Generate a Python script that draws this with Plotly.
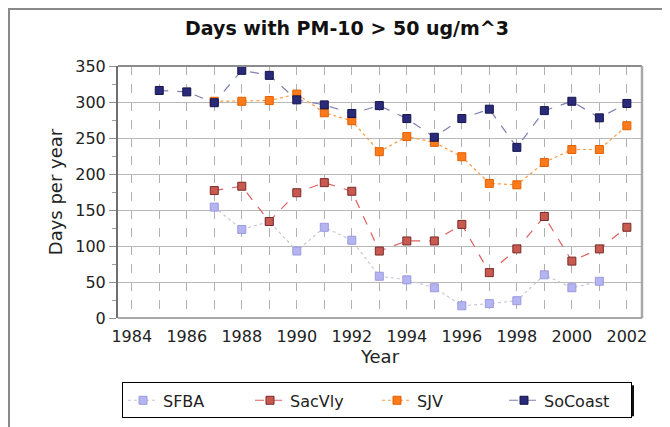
import plotly.graph_objects as go

years = list(range(1984, 2003))
tick_years = list(range(1984, 2003, 2))

sfba_years = list(range(1987, 2002))
sfba = [154, 123, 134, 93, 126, 108, 58, 53, 42, 17, 20, 24, 60, 42, 51]

sacvly_years = list(range(1987, 2003))
sacvly = [177, 183, 134, 174, 188, 176, 93, 107, 107, 130, 63, 96, 141, 79, 96, 126]

sjv_years = list(range(1987, 2003))
sjv = [301, 301, 302, 311, 285, 274, 231, 252, 244, 224, 187, 185, 216, 234, 234, 267]

socoast_years = list(range(1985, 2003))
socoast = [316, 314, 299, 344, 337, 303, 296, 284, 295, 277, 251, 277, 290, 237, 288, 301, 278, 298]

# page body adds an 8px offset; figure coordinates = screen coordinates - 8
OFF = 8
W, H = 670, 427
L, R, T, B = 118 - OFF, 642 - OFF, 66 - OFF, 318.5 - OFF

def px(x):
    return (x - OFF - L) / (R - L)

def py(y):
    return (B - (y - OFF)) / (B - T)

series = [
    ("SFBA", sfba_years, sfba, "#c8c8d8", "dot", "#b4b4f0", "#9a9ae0"),
    ("SacVly", sacvly_years, sacvly, "#e06060", "dash", "#c85a50", "#7a2a2a"),
    ("SJV", sjv_years, sjv, "#ff9a40", "dot", "#ff7a1a", "#e06000"),
    ("SoCoast", socoast_years, socoast, "#8080b0", "dash", "#2a2a7a", "#14144a"),
]

FONT = "DejaVu Sans, Liberation Sans, Arial, sans-serif"

fig = go.Figure()
for name, xs, ys, lc, dash, mc, mlc in series:
    fig.add_trace(go.Scatter(
        x=xs, y=ys, name=name, mode="lines+markers",
        line=dict(color=lc, width=1.2, dash=dash),
        marker=dict(symbol="square", size=8, color=mc, line=dict(color=mlc, width=1)),
    ))

LEG_X0, LEG_Y0 = 122, 383
ENTRY = 82
LEG_W = 509
LEG_H = 31

fig.update_layout(
    width=W, height=H,
    margin=dict(l=L, r=W - R, t=T, b=H - B, autoexpand=False),
    paper_bgcolor="white", plot_bgcolor="white",
    font=dict(family=FONT, color="#222222"),
    title=dict(text="<b>Days with PM-10 &gt; 50 ug/m^3</b>", x=(347 - OFF) / W, xref="container",
               y=1 - (28 - OFF) / H, yref="container", xanchor="center", yanchor="middle",
               font=dict(size=19, color="#111111", family=FONT)),
    showlegend=True,
    legend=dict(orientation="h", x=px(LEG_X0), y=py(LEG_Y0), xanchor="left", yanchor="top",
                bordercolor="#000000", borderwidth=1, bgcolor="white",
                font=dict(size=16, color="#222222"),
                entrywidth=ENTRY, entrywidthmode="pixels", itemwidth=30),
    xaxis=dict(range=[1983.5, 2002.55], tickmode="array", tickvals=tick_years,
               ticktext=[str(t) for t in tick_years],
               showgrid=False, zeroline=False, showline=False, automargin=False,
               ticks="", ticklabelstandoff=7, tickfont=dict(size=16, color="#222222"),
               title=dict(text="Year", font=dict(size=18, color="#222222"), standoff=2),
               minor=dict(tickvals=years, showgrid=True, gridcolor="#b0b0b0",
                          griddash="dash", gridwidth=1)),
    yaxis=dict(range=[0, 350], tickmode="linear", dtick=50, tick0=0,
               showgrid=True, gridcolor="#b8b8b8", gridwidth=1, automargin=False,
               zeroline=False, showline=True, linecolor="#707070", linewidth=2,
               ticks="outside", ticklen=7, tickcolor="#909090",
               tickfont=dict(size=16, color="#222222"),
               title=dict(text="Days per year", font=dict(size=18, color="#222222"), standoff=8),
               minor=dict(dtick=25, ticks="outside", ticklen=4, tickcolor="#a0a0a0", showgrid=False)),
)

# plot frame (top/right/bottom)
fig.add_shape(type="line", xref="paper", yref="paper", x0=0, x1=1, y0=1, y1=1,
              line=dict(color="#8c8c8c", width=2), layer="above")
fig.add_shape(type="line", xref="paper", yref="paper", x0=1, x1=1, y0=0, y1=1,
              line=dict(color="#a8a8a8", width=2.5), layer="above")
fig.add_shape(type="line", xref="paper", yref="paper", x0=0, x1=1, y0=0, y1=0,
              line=dict(color="#8c8c8c", width=1.5), layer="above")
# outer chart border
fig.add_shape(type="rect", xref="paper", yref="paper", x0=px(9), x1=px(720), y0=py(9), y1=py(480),
              line=dict(color="#8a8a8a", width=2), layer="below")
# legend shadow
fig.add_shape(type="rect", xref="paper", yref="paper",
              x0=px(LEG_X0 + 3), x1=px(LEG_X0 + LEG_W + 3),
              y0=py(LEG_Y0 + 3), y1=py(LEG_Y0 + LEG_H + 3),
              line=dict(width=0), fillcolor="#111111", layer="above")

fig.write_html("out.html")
